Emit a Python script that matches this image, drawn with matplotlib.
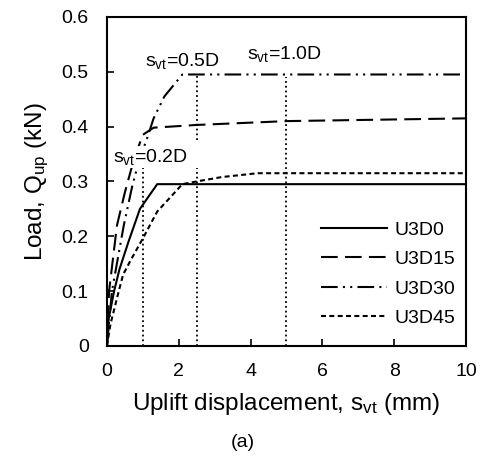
import matplotlib
matplotlib.use("Agg")
import matplotlib.pyplot as plt

plt.rcParams['font.family'] = ['Liberation Sans', 'DejaVu Sans']
plt.rcParams['mathtext.fontset'] = 'custom'
plt.rcParams['mathtext.rm'] = 'Liberation Sans'
plt.rcParams['mathtext.it'] = 'Liberation Sans'

# Data
u3d0_x = [0, 0.05, 0.2, 0.35, 0.6, 0.92, 1.4, 10]
u3d0_y = [0, 0.05, 0.10, 0.14, 0.19, 0.25, 0.295, 0.295]

u3d15_x = [0, 0.06, 0.28, 0.5, 0.75, 1.0, 1.3, 2.5, 5, 10]
u3d15_y = [0, 0.10, 0.22, 0.28, 0.34, 0.385, 0.398, 0.403, 0.41, 0.415]

u3d30_x = [0, 0.14, 0.47, 0.7, 0.9, 1.1, 1.3, 1.6, 2.1, 10]
u3d30_y = [0, 0.10, 0.22, 0.29, 0.34, 0.375, 0.415, 0.455, 0.495, 0.495]

u3d45_x = [0, 0.1, 0.33, 0.45, 0.65, 1.0, 1.4, 2.1, 2.5, 3.2, 4.2, 10]
u3d45_y = [0, 0.04, 0.10, 0.13, 0.155, 0.196, 0.245, 0.295, 0.30, 0.308, 0.315, 0.315]

ref_lines = [(1.0, 0.0, 0.33), (2.5, 0.0, 0.325), (2.5, 0.375, 0.497), (5.0, 0.0, 0.49)]
annots = [(0.17, 0.335, r's$_{\mathrm{vt}}$=0.2D'), (1.06, 0.51, r's$_{\mathrm{vt}}$=0.5D'), (3.9, 0.524, r's$_{\mathrm{vt}}$=1.0D')]

fig = plt.figure(figsize=(4.86, 4.57), dpi=100)
ax = fig.add_axes([0.220, 0.243, 0.739, 0.720])

lw = 1.5
ax.plot(u3d0_x, u3d0_y, color='black', lw=lw, label='U3D0')
ax.plot(u3d15_x, u3d15_y, color='black', lw=lw, dashes=[8, 3.5], label='U3D15')
ax.plot(u3d30_x, u3d30_y, color='black', lw=lw, dashes=[8, 2.5, 1, 2.5, 1, 2.5], label='U3D30')
ax.plot(u3d45_x, u3d45_y, color='black', lw=lw, dashes=[2.4, 1.6], label='U3D45')

for x, y0, y1 in ref_lines:
    ax.plot([x, x], [y0, y1], color='black', lw=1.3, linestyle=':')

for x, y, t in annots:
    ax.text(x, y, t, fontsize=14, ha='left', va='baseline', zorder=5,
            bbox=dict(facecolor='white', edgecolor='none', pad=0.5))

ax.set_xlim(0, 10)
ax.set_ylim(0, 0.6)
ax.set_xticks([0, 2, 4, 6, 8, 10])
ax.set_yticks([0, 0.1, 0.2, 0.3, 0.4, 0.5, 0.6])
ax.set_yticklabels(['0', '0.1', '0.2', '0.3', '0.4', '0.5', '0.6'])
ax.tick_params(direction='in', length=5, width=1.2, labelsize=14)
ax.tick_params(axis='x', pad=12)
ax.tick_params(axis='y', pad=13)
for s in ax.spines.values():
    s.set_linewidth(1.5)

ax.set_xlabel(r'Uplift displacement, s$_{\mathrm{vt}}$ (mm)', fontsize=17.5, labelpad=8)
ax.set_ylabel(r'Load, Q$_{\mathrm{up}}$ (kN)', fontsize=17.5, labelpad=8)

leg = ax.legend(loc='lower right', frameon=False, fontsize=14, handlelength=3.4,
                handletextpad=0.4, labelspacing=0.6, bbox_to_anchor=(1.02, 0.005))

fig.text(0.5, 0.022, '(a)', fontsize=14, ha='center')

fig.savefig('out.png', dpi=100)
